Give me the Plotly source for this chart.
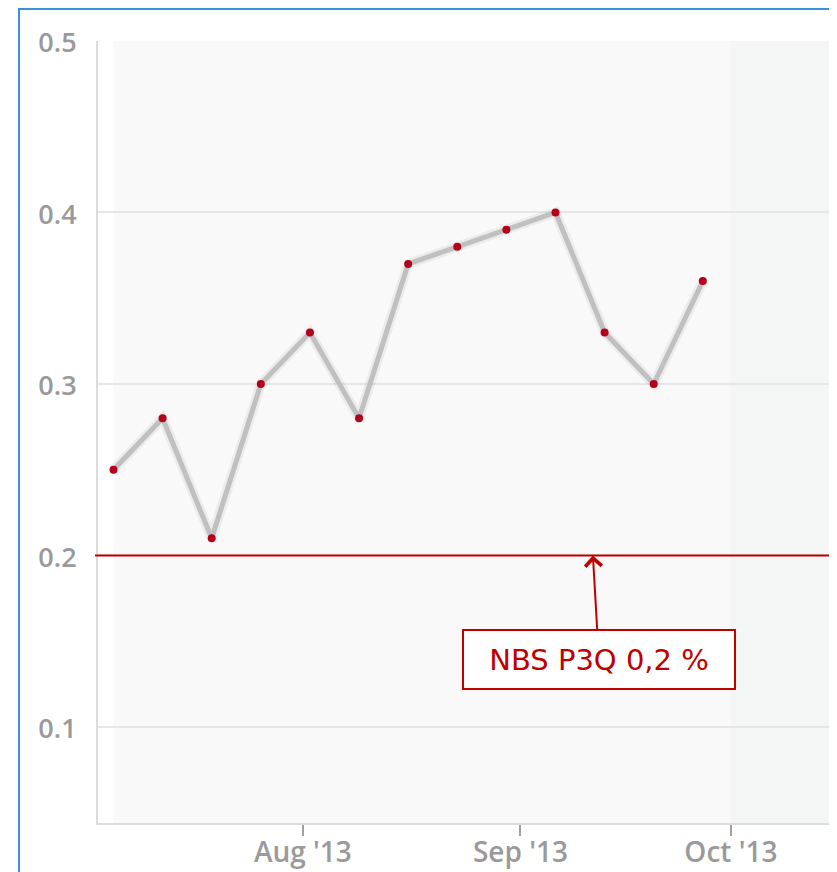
import plotly.graph_objects as go

# ---- data ----
dates = ["2013-07-05", "2013-07-12", "2013-07-19", "2013-07-26", "2013-08-02",
         "2013-08-09", "2013-08-16", "2013-08-23", "2013-08-30", "2013-09-06",
         "2013-09-13", "2013-09-20", "2013-09-27"]
values = [0.25, 0.28, 0.21, 0.30, 0.33, 0.28, 0.37, 0.38, 0.39, 0.40, 0.33, 0.30, 0.36]

tick_dates = ["2013-08-01", "2013-09-01", "2013-10-01"]
tick_labels = ["Aug '13", "Sep '13", "Oct '13"]
y_ticks = [0.1, 0.2, 0.3, 0.4, 0.5]

target_value = 0.2
target_label = "NBS P3Q 0,2 %"
target_arrow_date = "2013-09-11 08:00"
forecast_start = "2013-10-01"

x_range = ["2013-07-02 19:00", "2013-10-16 03:00"]
y_range = [0.044, 0.5]

# ---- layout geometry (pixels; page body has an 8px margin) ----
OFF = 8
W, H = 837 - OFF, 872 - OFF
ML, MR, MT, MB = 98 - OFF, 0, 41 - OFF, 872 - 823
PW, PH = W - ML - MR, H - MT - MB


def px_x(p):
    return (p - OFF - ML) / PW


def px_y(p):
    return (H - MB - (p - OFF)) / PH


RED = "#c00000"
GRAY_TXT = "#9a9a9a"
FONT = "Open Sans"

fig = go.Figure()

# soft shadow under the line
fig.add_trace(go.Scatter(
    x=dates, y=values, mode="lines",
    line=dict(color="rgba(0,0,0,0.05)", width=10),
    hoverinfo="skip", showlegend=False,
))
fig.add_trace(go.Scatter(
    x=dates, y=values, mode="lines+markers",
    line=dict(color="#c0c0c0", width=5),
    marker=dict(color="#b3001b", size=8, line=dict(width=0)),
    showlegend=False,
))

shapes = [
    dict(type="rect", xref="x", yref="paper", x0=dates[0], x1=forecast_start,
         y0=0, y1=1, fillcolor="#f9f9f9", line_width=0, layer="below"),
    dict(type="rect", xref="x", yref="paper", x0=forecast_start, x1=x_range[1],
         y0=0, y1=1, fillcolor="#f4f6f6", line_width=0, layer="below"),
    dict(type="line", xref="paper", yref="y", x0=px_x(95), x1=1,
         y0=target_value, y1=target_value, line=dict(color=RED, width=2)),
    dict(type="rect", xref="paper", yref="paper",
         x0=px_x(19), x1=px_x(836), y0=px_y(900), y1=px_y(OFF + 1),
         line=dict(color="#3b8fe0", width=2), fillcolor="rgba(0,0,0,0)"),
]

annotations = [
    dict(x=target_arrow_date, y=target_value, xref="x", yref="y",
         text=target_label, showarrow=True, ax=6, ay=104,
         arrowhead=4, arrowsize=1.6, arrowwidth=2, arrowcolor=RED,
         font=dict(family="DejaVu Sans", size=29, color=RED),
         bordercolor=RED, borderwidth=2, bgcolor="white",
         width=268, height=55, align="center", valign="middle"),
]

fig.update_layout(
    width=W, height=H,
    margin=dict(l=ML, r=MR, t=MT, b=MB, pad=0, autoexpand=False),
    paper_bgcolor="white", plot_bgcolor="white",
    shapes=shapes, annotations=annotations,
    xaxis=dict(
        type="date", range=x_range, automargin=False,
        tickvals=tick_dates, ticktext=tick_labels,
        showgrid=False, zeroline=False,
        showline=True, linecolor="#dcdcdc", linewidth=2,
        ticks="outside", ticklen=11, tickwidth=2, tickcolor="#a0a0a0",
        tickfont=dict(family=FONT, size=28, color=GRAY_TXT, weight=600),
        ticklabelstandoff=-8,
    ),
    yaxis=dict(
        range=y_range, tickvals=y_ticks, automargin=False,
        ticktext=[f"{v:.1f}" for v in y_ticks],
        showgrid=True, gridcolor="#e6e6e6", gridwidth=2,
        zeroline=False, showline=True, linecolor="#dcdcdc", linewidth=2,
        ticks="", ticklabelstandoff=14, ticklabelshift=2,
        tickfont=dict(family=FONT, size=27, color=GRAY_TXT, weight=600),
    ),
)

fig.write_html("out.html")
